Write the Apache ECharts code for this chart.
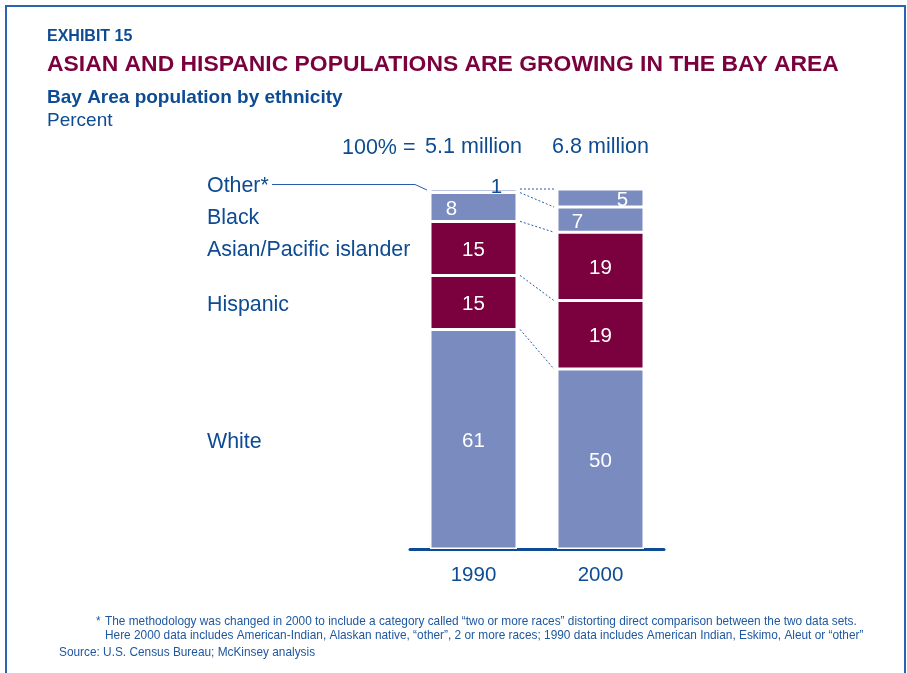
<!DOCTYPE html>
<html>
<head>
<meta charset="utf-8">
<title>Bay Area population by ethnicity</title>
<script src="https://cdn.jsdelivr.net/npm/echarts@6/dist/echarts.min.js"></script>
<style>
  html, body { margin: 0; padding: 0; background: #ffffff; }
  #chart { width: 907px; height: 673px; }
</style>
</head>
<body>
<div id="chart"></div>
<script>
// Bay Area population share by ethnicity, percent of total
const years = ['1990', '2000'];
const totals = ['5.1 million', '6.8 million'];
const white = [61, 50];
const hispanic = [15, 19];
const asian = [15, 19];
const black = [8, 7];
const other = [1, 5];
const groupNames = ['White', 'Hispanic', 'Asian/Pacific islander', 'Black', 'Other*'];

const FONT = '"Liberation Sans", Arial, Helvetica, sans-serif';
const NAVY = '#0d4b92';
const MAROON = '#7b003e';
const SLATE = '#7a8bbf';
const BAR_W = 87;

// stack order, bottom to top
const stackSeries = [
  { name: 'White', values: white, color: SLATE },
  { name: 'Hispanic', values: hispanic, color: MAROON },
  { name: 'Asian/Pacific islander', values: asian, color: MAROON },
  { name: 'Black', values: black, color: SLATE },
  { name: 'Other*', values: other, color: SLATE }
];

// per-bar label nudges for the thin segments
const labelNudge = {
  'Black': [{ offset: [-22, 2] }, { offset: [-23, 3] }],
  'Other*': [{ offset: [23, -3], color: NAVY }, { offset: [22, 2] }]
};

// segment boundaries (cumulative tops) used by the dashed connectors
const boundaries = [];
{
  let c0 = 0, c1 = 0;
  stackSeries.forEach(s => {
    c0 += s.values[0];
    c1 += s.values[1];
    boundaries.push([0, c0, c1]);
  });
}

const series = stackSeries.map(s => ({
  name: s.name,
  type: 'bar',
  stack: 'total',
  barWidth: BAR_W,
  itemStyle: { color: s.color, borderColor: '#ffffff', borderWidth: 1.5 },
  label: {
    show: true,
    position: 'inside',
    offset: [0, 2],
    color: '#ffffff',
    fontFamily: FONT,
    fontSize: 20.5,
    formatter: '{c}'
  },
  emphasis: { disabled: true },
  data: s.values.map((v, i) => {
    const nudge = labelNudge[s.name] && labelNudge[s.name][i];
    return nudge ? { value: v, label: nudge } : v;
  })
}));

series.push({
  type: 'custom',
  name: 'connectors',
  silent: true,
  clip: false,
  z: 5,
  encode: { x: 0, y: 1 },
  data: boundaries,
  renderItem: function (params, api) {
    const a = api.coord([0, api.value(1)]);
    const b = api.coord([1, api.value(2)]);
    return {
      type: 'line',
      shape: { x1: a[0] + BAR_W / 2 + 3, y1: a[1], x2: b[0] - BAR_W / 2 - 3, y2: b[1] },
      style: { stroke: '#2a5ea8', lineWidth: 1, lineDash: [2, 2] }
    };
  }
});

const chart = echarts.init(document.getElementById('chart'), null, { renderer: 'canvas' });

const textStyle = (size, weight, color) => ({
  fontFamily: FONT, fontSize: size, fontWeight: weight, fill: color
});

chart.setOption({
  animation: false,
  backgroundColor: '#ffffff',
  grid: { left: 410, width: 254, top: 189, height: 360 },
  xAxis: [
    {
      type: 'category',
      data: years,
      position: 'bottom',
      axisLine: { lineStyle: { color: NAVY, width: 3 } },
      axisTick: { show: false },
      axisLabel: { color: NAVY, fontFamily: FONT, fontSize: 20.5, margin: 16 }
    },
    {
      type: 'category',
      data: totals,
      position: 'top',
      axisLine: { show: false },
      axisTick: { show: false },
      axisLabel: { color: NAVY, fontFamily: FONT, fontSize: 21.5, margin: 31 }
    }
  ],
  yAxis: { type: 'value', min: 0, max: 100, show: false },
  series: series,
  graphic: [
    {
      type: 'rect',
      shape: { x: 6, y: 6, width: 899, height: 720 },
      style: { fill: 'none', stroke: '#2d62ad', lineWidth: 2 },
      silent: true
    },
    { type: 'text', x: 47, y: 37, style: Object.assign(textStyle(16, 'bold', NAVY), { text: 'EXHIBIT 15', verticalAlign: 'middle' }) },
    { type: 'text', x: 47, y: 65, style: Object.assign(textStyle(22.9, 'bold', MAROON), { text: 'ASIAN AND HISPANIC POPULATIONS ARE GROWING IN THE BAY AREA', verticalAlign: 'middle' }) },
    { type: 'text', x: 47, y: 98, style: Object.assign(textStyle(19, 'bold', NAVY), { text: 'Bay Area population by ethnicity', verticalAlign: 'middle' }) },
    { type: 'text', x: 47, y: 121, style: Object.assign(textStyle(19, 'normal', NAVY), { text: 'Percent', verticalAlign: 'middle' }) },
    { type: 'text', x: 342, y: 148, style: Object.assign(textStyle(21.5, 'normal', NAVY), { text: '100% =', verticalAlign: 'middle' }) },

    // group names beside the 1990 bar
    { type: 'text', x: 207, y: 186, style: Object.assign(textStyle(21.4, 'normal', NAVY), { text: groupNames[4], verticalAlign: 'middle' }) },
    { type: 'text', x: 207, y: 218, style: Object.assign(textStyle(21.4, 'normal', NAVY), { text: groupNames[3], verticalAlign: 'middle' }) },
    { type: 'text', x: 207, y: 250, style: Object.assign(textStyle(21.4, 'normal', NAVY), { text: groupNames[2], verticalAlign: 'middle' }) },
    { type: 'text', x: 207, y: 305, style: Object.assign(textStyle(21.4, 'normal', NAVY), { text: groupNames[1], verticalAlign: 'middle' }) },
    { type: 'text', x: 207, y: 442, style: Object.assign(textStyle(21.4, 'normal', NAVY), { text: groupNames[0], verticalAlign: 'middle' }) },
    {
      type: 'polyline',
      shape: { points: [[272, 184.5], [415, 184.5], [427, 190]] },
      style: { stroke: '#2a5ea8', lineWidth: 1, fill: 'none' },
      silent: true
    },

    // footnote and source
    { type: 'text', x: 96, y: 622, style: Object.assign(textStyle(11.85, 'normal', '#1f58a0'), { text: '*', verticalAlign: 'middle' }) },
    { type: 'text', x: 105, y: 622, style: Object.assign(textStyle(11.85, 'normal', '#1f58a0'), { text: 'The methodology was changed in 2000 to include a category called \u201ctwo or more races\u201d distorting direct comparison between the two data sets.', verticalAlign: 'middle' }) },
    { type: 'text', x: 105, y: 636, style: Object.assign(textStyle(11.85, 'normal', '#1f58a0'), { text: 'Here 2000 data includes American-Indian, Alaskan native, \u201cother\u201d, 2 or more races; 1990 data includes American Indian, Eskimo, Aleut or \u201cother\u201d', verticalAlign: 'middle' }) },
    { type: 'text', x: 59, y: 653, style: Object.assign(textStyle(11.85, 'normal', '#1f58a0'), { text: 'Source: U.S. Census Bureau; McKinsey analysis', verticalAlign: 'middle' }) }
  ]
});
</script>
</body>
</html>
